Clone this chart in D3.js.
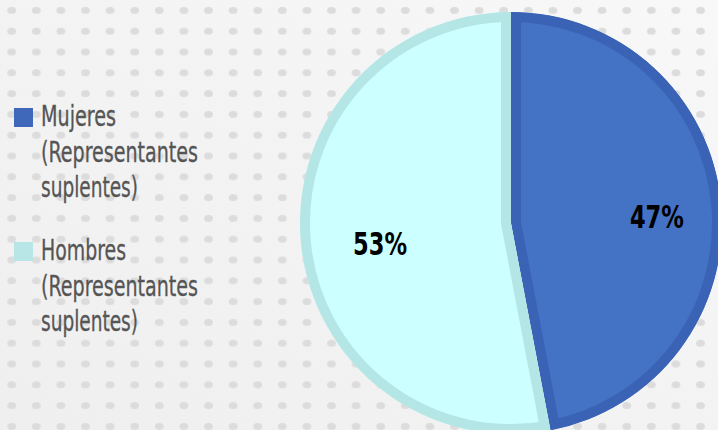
<!DOCTYPE html>
<html><head><meta charset="utf-8">
<script src="https://cdn.jsdelivr.net/npm/d3@7"></script>
<style>html,body{margin:0;padding:0;background:#f2f2f2;overflow:hidden}</style>
</head><body>
<svg id="c" width="718" height="430"></svg>
<script>
const categories = ["Mujeres (Representantes suplentes)", "Hombres (Representantes suplentes)"];
const legendLines = [["Mujeres", "(Representantes", "suplentes)"], ["Hombres", "(Representantes", "suplentes)"]];
const legendWidths = [[75, 157, 97], [85, 157, 97]];
const values = [47, 53];
const valueLabels = ["47%", "53%"];
const fills = ["#4472C4", "#CCFFFF"];
const borders = ["#3A63B6", "#B5E6E6"];

const W = 718, H = 430;
const svg = d3.select("#c");
const defs = svg.append("defs");

// background
const g0 = defs.append("linearGradient").attr("id","bg").attr("x1","0").attr("y1","1").attr("x2","1").attr("y2","0");
g0.append("stop").attr("offset","0").attr("stop-color","#efefef");
g0.append("stop").attr("offset","0.5").attr("stop-color","#f3f3f3");
g0.append("stop").attr("offset","1").attr("stop-color","#f8f8f8");
svg.append("rect").attr("width",W).attr("height",H).attr("fill","url(#bg)");
const pat = defs.append("pattern").attr("id","dots").attr("patternUnits","userSpaceOnUse")
  .attr("width",24.6).attr("height",20.8).attr("x",-0.6).attr("y",0);
pat.append("ellipse").attr("cx",12.3).attr("cy",10.4).attr("rx",4.4).attr("ry",3.5).attr("fill","#dcdcdc");
svg.append("rect").attr("width",W).attr("height",H).attr("fill","url(#dots)");

// pie
const cx = 511, cy = 223, R = 211;
const pie = d3.pie().sort(null).startAngle(0).endAngle(2*Math.PI);
const arcs = pie(values);
const arc = d3.arc().innerRadius(0).outerRadius(R);
const g = svg.append("g").attr("transform",`translate(${cx},${cy})`);
arcs.forEach((a,i)=>{
  defs.append("clipPath").attr("id","clip"+i).append("path").attr("d",arc(a));
});
g.selectAll("path.slice").data(arcs).join("path").attr("class","slice")
  .attr("d",arc).attr("fill",(d,i)=>fills[i])
  .attr("stroke",(d,i)=>borders[i]).attr("stroke-width",20)
  .attr("stroke-linejoin","miter")
  .attr("clip-path",(d,i)=>`url(#clip${i})`);

const labelArc = d3.arc().innerRadius(139).outerRadius(139);
g.selectAll("text.val").data(arcs).join("text").attr("class","val")
  .attr("x",d=>labelArc.centroid(d)[0]+7.5-27)
  .attr("y",d=>labelArc.centroid(d)[1]+7+11.5)
  .attr("textLength",54).attr("lengthAdjust","spacingAndGlyphs")
  .attr("font-family","'DejaVu Sans Condensed','DejaVu Sans',sans-serif")
  .attr("font-weight","bold").attr("font-size",32)
  .attr("fill","#000")
  .text((d,i)=>valueLabels[i]);

// legend
const lg = svg.append("g");
const legendY = d3.scalePoint().domain(categories).range([108, 242]);
categories.forEach((c,i)=>{
  const y0 = legendY(c);
  lg.append("rect").attr("x",14).attr("y",y0).attr("width",19).attr("height",19).attr("fill",i===0?"#3F68BA":"#B8E6E6");
  legendLines[i].forEach((t,j)=>{
    lg.append("text").attr("x",41).attr("y",y0+18+j*35.7)
      .attr("textLength",legendWidths[i][j]).attr("lengthAdjust","spacingAndGlyphs")
      .attr("font-family","'DejaVu Sans Condensed','DejaVu Sans',sans-serif")
      .attr("font-size",27.5).attr("fill","#555555")
      .attr("stroke","#555555").attr("stroke-width",0.3)
      .text(t);
  });
});
</script>
</body></html>
